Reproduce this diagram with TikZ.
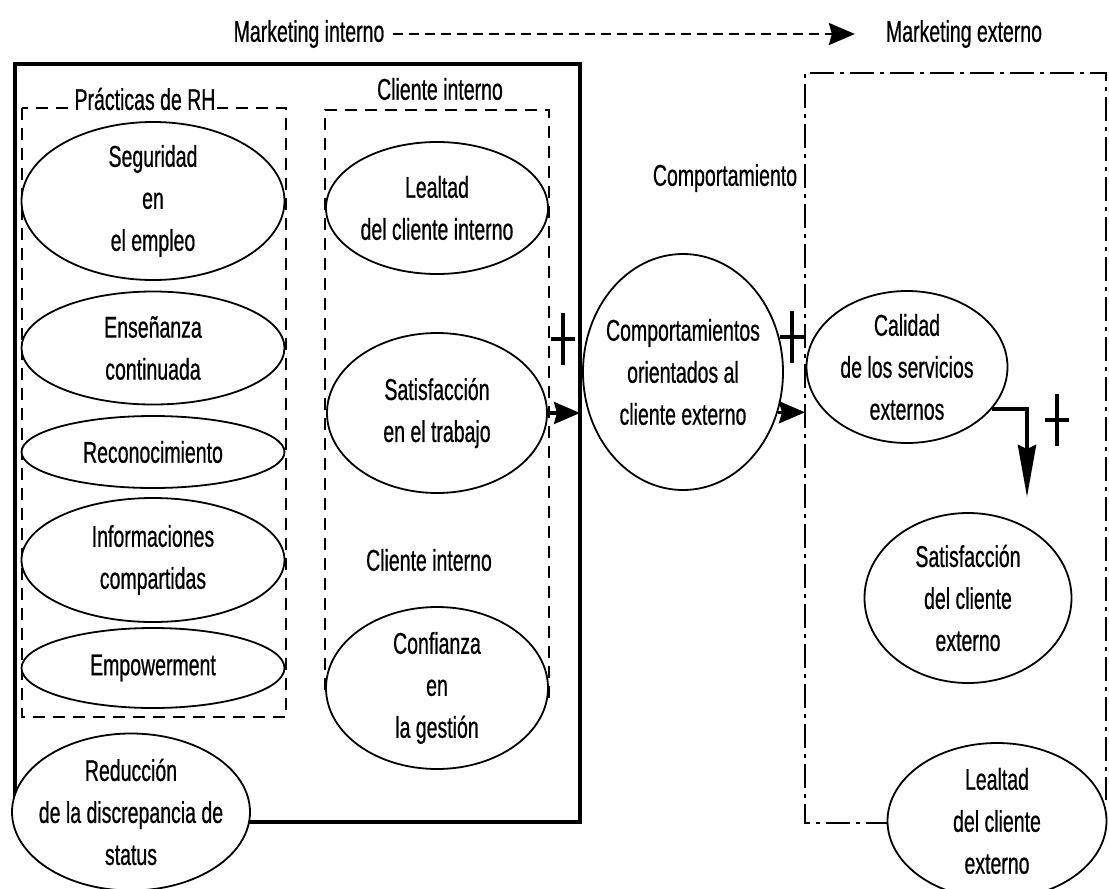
\documentclass[tikz,border=0pt]{standalone}
\usepackage{fontspec}
\setmainfont{Liberation Sans}[FakeStretch=0.65, FakeBold=0.6]
\usetikzlibrary{shapes.geometric,arrows.meta,calc}

\begin{document}
\begin{tikzpicture}[x=0.5pt, y=-0.5pt,
  every node/.style={font=\fontsize{15}{21}\selectfont},
  oval/.style={ellipse, draw, line width=0.9pt, fill=white, inner sep=-6pt, align=center},
  frame/.style={line width=2.2pt},
  dbox/.style={line width=1.2pt, dash pattern=on 6pt off 4pt},
  ddbox/.style={line width=1.4pt, dash pattern=on 12pt off 3pt on 2pt off 3pt},
  arr/.style={line width=1.6pt, -{Stealth[length=13pt, width=11pt, inset=1.5pt]}},
  plusline/.style={line width=1.6pt}]
  \useasboundingbox (0,0) rectangle (1109,889);

  \coordinate (int-nw) at (15,64);
  \coordinate (int-se) at (580,822);
  \coordinate (ext-nw) at (805,73);
  \draw[frame] (int-nw) rectangle (int-se);
  \draw[dbox] (22,108) rectangle (286,717);
  \draw[dbox] (325,690) -- (325,110) -- (549,110) -- (549,700);
  \draw[ddbox] (890,823) -- (805,823) -- (ext-nw) -- (1106,73) -- (1106,800);

  \node (mi) at (309,34) {Marketing interno};
  \node (me) at (964,34) {Marketing externo};
  \draw[arr, line width=1.3pt, dash pattern=on 5pt off 3pt, shorten <=1pt, shorten >=12pt] (mi) -- (me);

  \node[fill=white, inner sep=1pt] (rh) at (145,99) {Prácticas de RH};
  \node (ci1) at (440,89) {Cliente interno};
  \node (ci2) at (429,560) {Cliente interno};
  \node (cmp) at (725,178) {Comportamiento};

  \node[oval, minimum width=131.5pt, minimum height=79pt] (seg) at (153,201) {Seguridad\\en\\el empleo};
  \node[oval, minimum width=131.5pt, minimum height=56.5pt] (ens) at (153,348) {Enseñanza\\continuada};
  \node[oval, minimum width=131.5pt, minimum height=36pt] (rec) at (153,452) {Reconocimiento};
  \node[oval, minimum width=131.5pt, minimum height=62pt] (inf) at (153,560) {Informaciones\\compartidas};
  \node[oval, minimum width=131.5pt, minimum height=40pt] (emp) at (153,668) {Empowerment};
  \node[oval, minimum width=119pt, minimum height=78.5pt] (red) at (131,812) {Reducción\\de la discrepancia de\\status};

  \node[oval, minimum width=111pt, minimum height=66pt] (lci) at (437,208) {Lealtad\\del cliente interno};
  \node[oval, minimum width=110pt, minimum height=80pt] (sat) at (437,413) {Satisfacción\\en el trabajo};
  \node[oval, minimum width=111pt, minimum height=81pt] (con) at (437,688) {Confianza\\en\\la gestión};

  \node[oval, minimum width=100pt, minimum height=118pt] (com) at (683,372) {Comportamientos\\orientados al\\cliente externo};

  \node[oval, minimum width=100.5pt, minimum height=76pt] (cal) at (907,367) {Calidad\\de los servicios\\externos};
  \node[oval, minimum width=103.5pt, minimum height=85pt] (sce) at (968,598) {Satisfacción\\del cliente\\externo};
  \node[oval, minimum width=109.5pt, minimum height=78pt] (lce) at (997,821) {Lealtad\\del cliente\\externo};

  \draw[arr] (sat.east) -- (sat.east -| int-se);
  \draw[arr] (com.-23) -- (com.-23 -| ext-nw);
  \coordinate (sce-in) at (1027,497);
  \draw[line width=2pt, -{Stealth[length=26pt, width=9pt, inset=2pt]}] (cal.-26) -| (sce-in);

  \foreach \px/\py in {563/339, 792/337, 1057/420}
    \draw[plusline] (\px-12,\py) -- (\px+12,\py) (\px,\py-26) -- (\px,\py+26);
\end{tikzpicture}
\end{document}
